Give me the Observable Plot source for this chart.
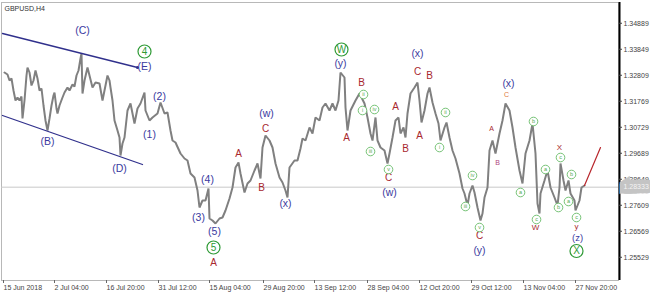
<!DOCTYPE html>
<html><head><meta charset="utf-8">
<script src="https://cdn.jsdelivr.net/npm/d3@7"></script>
<script src="https://cdn.jsdelivr.net/npm/@observablehq/plot@0.6"></script>
<style>body{margin:0;background:#fff;} #chart{width:650px;height:294px;}</style>
</head><body><div id="chart"></div>
<script>
// ---- price path (H4 bar position, price) ----
const bars = [
  2,5,7,9,11,13,15,17,19,20,
  22,24,25,27,29,31,33,35,37,39,
  41,43,45,47,49,51,52,54,55,57,
  60,62,65,67,70,72,74,76,78,79,
  80,82,85,87,90,93,97,100,102,105,
  107,108,110,112,115,117,118,120,122,125,
  128,132,135,138,142,143,147,150,155,158,
  162,165,168,170,173,178,182,185,188,192,
  195,197,200,203,206,207,210,213,217,220,
  223,227,230,233,236,238,242,245,248,252,
  255,258,260,263,267,270,273,277,280,283,
  285,287,292,295,298,300,303,307,310,313,
  317,320,323,327,330,333,336,338,342,343,
  345,348,353,357,362,365,368,370,373,375,
  378,382,385,387,390,393,396,398,401,403,
  405,408,412,415,417,419,422,425,427,430,
  433,436,438,442,444,447,450,453,457,460,
  462,465,467,470,472,475,478,480,482,485,
  487,490,493,497,500,503,507,510,513,517,
  520,523,527,530,533,535,537,538,542,545,
  548,552,555,557,558,561,563,566,568,572,
  573,577,579,582
];
const closes = [
  1.3292,1.3284,1.3260,1.3268,1.3220,1.3180,1.3192,1.3180,1.3196,1.3108,
  1.3180,1.3280,1.3312,1.3292,1.3240,1.3260,1.3300,1.3268,1.3220,1.3228,
  1.3160,1.3100,1.3060,1.3108,1.3160,1.3200,1.3212,1.3148,1.3128,1.3160,
  1.3192,1.3212,1.3232,1.3220,1.3244,1.3236,1.3280,1.3300,1.3348,1.3368,
  1.3208,1.3260,1.3312,1.3280,1.3232,1.3252,1.3248,1.3180,1.3220,1.3280,
  1.3260,1.3232,1.3180,1.3100,1.3060,1.3032,1.2960,1.3008,1.3032,1.3140,
  1.3168,1.3088,1.3148,1.3168,1.3212,1.3140,1.3100,1.3112,1.3128,1.3172,
  1.3128,1.3132,1.3060,1.3020,1.3012,1.2968,1.2948,1.2940,1.2888,1.2872,
  1.2820,1.2752,1.2780,1.2780,1.2828,1.2708,1.2700,1.2688,1.2708,1.2712,
  1.2740,1.2788,1.2832,1.2912,1.2932,1.2888,1.2812,1.2848,1.2860,1.2900,
  1.2928,1.2868,1.2992,1.3040,1.3020,1.2992,1.2928,1.2872,1.2852,1.2820,
  1.2792,1.2912,1.2940,1.2940,1.2988,1.3028,1.3020,1.3072,1.3048,1.3112,
  1.3100,1.3152,1.3168,1.3140,1.3168,1.3140,1.3180,1.3292,1.3272,1.3152,
  1.3060,1.3140,1.3180,1.3208,1.3168,1.3112,1.3048,1.3020,1.3112,1.3020,
  1.2992,1.2980,1.2928,1.2968,1.3032,1.3100,1.3112,1.3048,1.3072,1.3032,
  1.3128,1.3208,1.3232,1.3252,1.3180,1.3092,1.3140,1.3208,1.3232,1.3172,
  1.3128,1.3088,1.3020,1.3072,1.3092,1.3032,1.2980,1.2948,1.2888,1.2828,
  1.2808,1.2760,1.2808,1.2840,1.2812,1.2752,1.2700,1.2728,1.2792,1.2832,
  1.2980,1.3020,1.2968,1.3048,1.3100,1.3168,1.3140,1.3072,1.2992,1.2900,
  1.2848,1.2968,1.3020,1.3088,1.2968,1.2768,1.2728,1.2808,1.2860,1.2900,
  1.2832,1.2792,1.2760,1.2832,1.2928,1.2860,1.2820,1.2860,1.2808,1.2780,
  1.2740,1.2780,1.2832,1.2840
];

// ---- axes ----
const timeTickBars = [2,53,105,157,208,262,313,366,418,470,522,574];
const timeTickLabels = ["15 Jun 2018","2 Jul 04:00","16 Jul 20:00","31 Jul 12:00","15 Aug 04:00","29 Aug 20:00","13 Sep 12:00","28 Sep 04:00","12 Oct 20:00","29 Oct 12:00","13 Nov 04:00","27 Nov 20:00"];
const priceTicks = [1.34889,1.33849,1.32809,1.31769,1.30729,1.29689,1.28649,1.27609,1.26569,1.25529];
const currentPrice = 1.28333;

// ---- channel and forecast lines ----
const upperChannelBars = [0,135], upperChannelPrices = [1.3448,1.3312];
const lowerChannelBars = [0,140], lowerChannelPrices = [1.3120,1.2924];
const forecastBars = [582,598], forecastPrices = [1.2840,1.2992];

// ---- wave labels ----
const blueText  = ["(C)","(B)","(E)","(D)","(1)","(2)","(3)","(4)","(5)","(w)","(x)","(y)","(w)","(x)","(y)","(x)","(z)"];
const blueBar   = [80,45,142,117,147,157,196,205,212,264,283,338,387,415,477,506,575];
const bluePrice = [1.3460,1.3016,1.3316,1.2908,1.3044,1.3196,1.2712,1.2864,1.2656,1.3128,1.2768,1.3328,1.2812,1.3368,1.2580,1.3248,1.2630];

const bigCircText  = ["4","5","W","X"];
const bigCircBar   = [142,211,339,574];
const bigCircPrice = [1.3376,1.2592,1.3384,1.2578];

const redText  = ["A","A","B","C","A","B","A","B","C","C","A","B","C"];
const redBar   = [211,236,259,263,344,359,393,403,386,415,417,427,477];
const redPrice = [1.2532,1.2968,1.2832,1.3068,1.3032,1.3252,1.3156,1.2988,1.2870,1.3296,1.3040,1.3280,1.2640];

const minorRedText  = ["W","X","y"];
const minorRedBar   = [533,557,574];
const minorRedPrice = [1.2672,1.2992,1.2678];

const tinyText  = ["A","B","C"];
const tinyBar   = [489,495,504];
const tinyPrice = [1.3068,1.2932,1.3204];
const tinyColor = ["#a8282e","#b0457e","#e07a40"];

const smallCircText  = ["ii","i","iii","iv","v","i","ii","iii","iv","v","a","b","c","a","b","c","a","b","c"];
const smallCircBar   = [361,360,368,372,386,437,443,463,470,477,518,531,534,543,556,558,566,569,574];
const smallCircPrice = [1.3204,1.3140,1.2976,1.3144,1.2904,1.2992,1.3132,1.2756,1.2880,1.2672,1.2812,1.3096,1.2704,1.2904,1.2752,1.2952,1.2776,1.2884,1.2712];

// ---- build tables ----
const series = bars.map((b,i)=>({b, p: closes[i]}));
const tbl = (t,b,p)=>t.map((s,i)=>({t:s,b:b[i],p:p[i],i}));
const blue = tbl(blueText,blueBar,bluePrice);
const bigC = tbl(bigCircText,bigCircBar,bigCircPrice);
const red = tbl(redText,redBar,redPrice);
const minorRed = tbl(minorRedText,minorRedBar,minorRedPrice);
const tiny = tbl(tinyText,tinyBar,tinyPrice);
const smallC = tbl(smallCircText,smallCircBar,smallCircPrice);
const line2 = (b,p)=>b.map((x,i)=>({b:x,p:p[i]}));
const labelOf = new Map(timeTickBars.map((b,i)=>[b,timeTickLabels[i]]));

const FONT = "Liberation Sans, Arial, sans-serif";
const chart = Plot.plot({
  width: 650, height: 294,
  marginLeft: 1, marginRight: 32, marginTop: 2, marginBottom: 14,
  style: {fontFamily: FONT, background: "#fff"},
  x: {domain: [-1, 616], axis: null},
  y: {domain: [1.246, 1.3572], axis: null},
  marks: [
    Plot.frame({stroke: "#b8b8b8", strokeWidth: 1}),
    Plot.ruleY([currentPrice], {stroke: "#c8c8c8", strokeWidth: 1}),
    Plot.line(series, {x: "b", y: "p", stroke: "#808080", strokeWidth: 2, strokeLinejoin: "miter"}),
    Plot.line(line2(upperChannelBars, upperChannelPrices), {x:"b", y:"p", stroke:"#30308c", strokeWidth: 1.3}),
    Plot.line(line2(lowerChannelBars, lowerChannelPrices), {x:"b", y:"p", stroke:"#30308c", strokeWidth: 1.3}),
    Plot.dot(line2(upperChannelBars, upperChannelPrices).slice(1), {x:"b", y:"p", r: 1.5, fill:"#30308c"}),
    Plot.line(line2(forecastBars, forecastPrices), {x:"b", y:"p", stroke:"#b8262c", strokeWidth: 1.2}),
    Plot.ruleX([617], {stroke: "#000", strokeWidth: 2}),
    Plot.axisY({anchor: "right", label: null, ticks: priceTicks, tickFormat: d => d.toFixed(5), tickSize: 3, tickPadding: 2, fontSize: 7, fill: "#444", stroke: "#444"}),
    Plot.axisX({anchor: "bottom", label: null, ticks: timeTickBars, tickFormat: d => labelOf.get(d), tickSize: 3, tickPadding: 2, fontSize: 7, fill: "#444", stroke: "#666", textAnchor: "start", dx: -1}),
    Plot.text([currentPrice], {x: 617, y: d => d, text: d => d.toFixed(5), textAnchor: "start", dx: 4, fontSize: 7, fill: "#f4f4f4", stroke: "#c4c4c4", strokeWidth: 9, strokeLinejoin: "miter"}),
    Plot.text(["GBPUSD,H4"], {frameAnchor: "top-left", dx: 3, dy: 4, fontSize: 7, fill: "#333"}),
    Plot.text(blue, {x:"b", y:"p", text:"t", fill:"#3a3aa0", fontSize: d => d.t === "(z)" ? 9.5 : 10.5}),
    Plot.dot(bigC, {x:"b", y:"p", r: 6.5, stroke:"#2e9a35", strokeWidth: 1.2, fill:"#fff"}),
    Plot.text(bigC, {x:"b", y:"p", text:"t", fill:"#2e9a35", fontSize: 10}),
    Plot.text(red, {x:"b", y:"p", text:"t", fill:"#a8282e", fontSize: 10}),
    Plot.text(minorRed, {x:"b", y:"p", text:"t", fill:"#a8282e", fontSize: 8}),
    Plot.text(tiny, {x:"b", y:"p", text:"t", fill: d => tinyColor[d.i], fontSize: 7}),
    Plot.dot(smallC, {x:"b", y:"p", r: 4.3, stroke:"#66bb66", strokeWidth: 0.9, fill:"#fff"}),
    Plot.text(smallC, {x:"b", y:"p", text:"t", fill:"#55aa55", fontSize: 5.5})
  ]
});
document.getElementById("chart").appendChild(chart);
</script>
</body></html>
